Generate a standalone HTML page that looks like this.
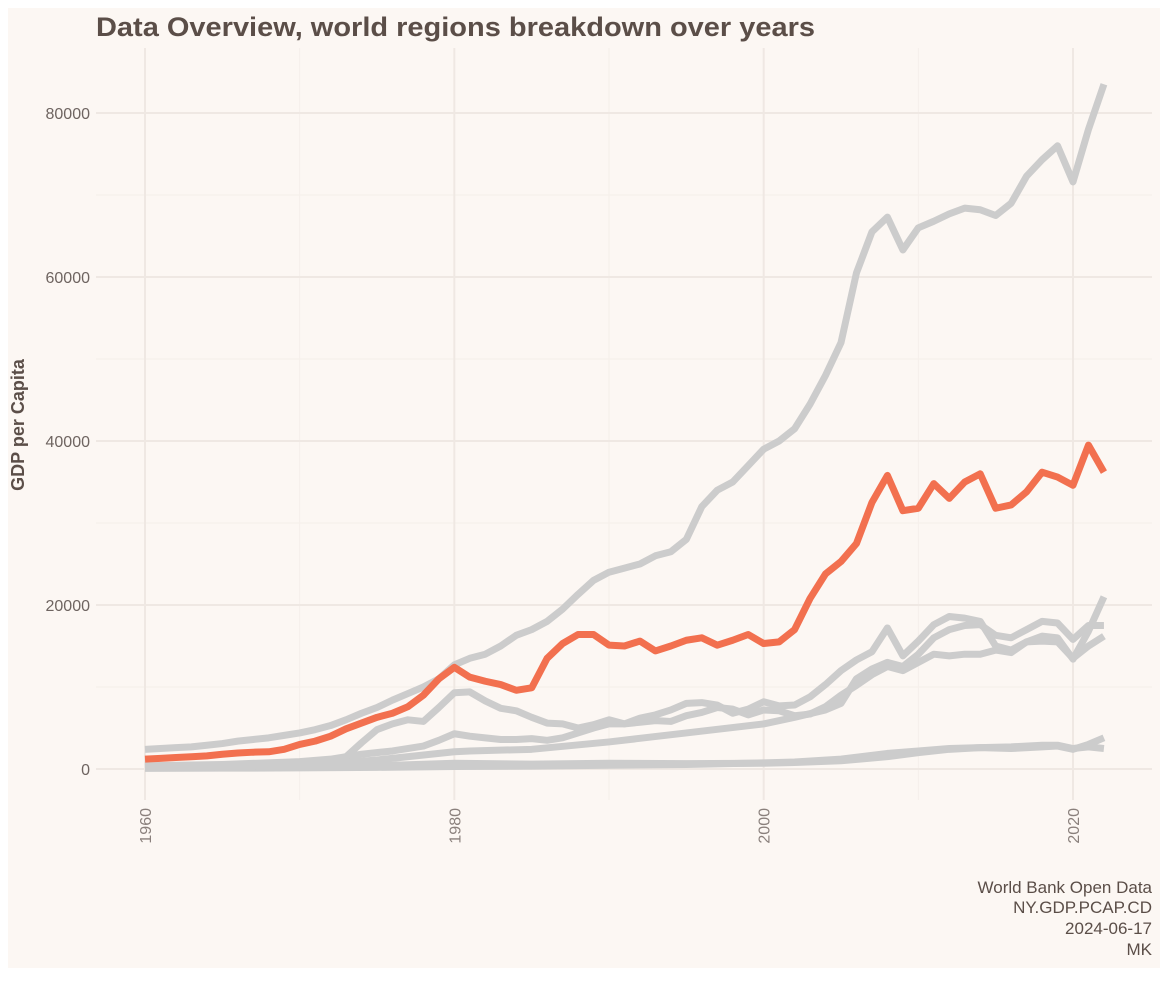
<!DOCTYPE html>
<html><head><meta charset="utf-8">
<style>
html,body{margin:0;padding:0;background:#fff;}
svg{display:block;font-family:"Liberation Sans","DejaVu Sans",sans-serif;}
</style></head>
<body>
<svg id="chart" width="1160" height="981" viewBox="0 0 1160 981">
<rect x="8" y="8" width="1152" height="960" fill="#fcf7f3"/>
<text x="96" y="36" font-size="27" font-weight="bold" fill="#5b4e48" textLength="719" lengthAdjust="spacingAndGlyphs">Data Overview, world regions breakdown over years</text>
<g id="grid"></g>
<g id="lines"></g>
<g id="axes"></g>
<text transform="translate(24,425) rotate(-90)" text-anchor="middle" font-size="18" font-weight="bold" fill="#5b4e48">GDP per Capita</text>
<g font-size="17" fill="#5b4e48" text-anchor="end">
<text x="1152" y="893">World Bank Open Data</text>
<text x="1152" y="913">NY.GDP.PCAP.CD</text>
<text x="1152" y="934">2024-06-17</text>
<text x="1152" y="955">MK</text>
</g>
</svg>
<script>
const xTicks=[1960,1980,2000,2020];
const yTicks=[0,20000,40000,60000,80000];
const yearsFull=[];for(let y=1960;y<=2022;y++)yearsFull.push(y);
const northAmerica=[2400,2500,2600,2700,2900,3100,3400,3600,3800,4100,4400,4800,5300,6000,6800,7500,8400,9200,10000,11000,12700,13500,14000,15000,16300,17000,18000,19500,21300,23000,24000,24500,25000,26000,26500,28000,32000,34000,35000,37000,39000,40000,41500,44500,48000,52000,60500,65500,67300,63300,66000,66800,67700,68400,68200,67500,69000,72300,74300,76000,71600,78000,83500];
const highlight=[1200,1300,1400,1500,1600,1800,1950,2050,2100,2400,3000,3400,4000,4900,5600,6300,6800,7600,9000,11000,12400,11200,10700,10300,9600,9900,13500,15300,16400,16400,15100,15000,15600,14400,15000,15700,16000,15100,15700,16400,15300,15500,17000,20800,23800,25300,27500,32500,35800,31500,31800,34800,33000,35000,36000,31800,32200,33800,36200,35600,34600,39500,36200];
const middleEast=[200,220,240,260,280,300,330,360,400,450,550,700,1000,1500,3200,4800,5500,6000,5800,7500,9300,9400,8300,7400,7100,6300,5600,5500,5000,5400,6000,5500,6200,6600,7200,8000,8100,7800,6800,7300,8200,7700,7800,8800,10300,12000,13300,14300,17200,13800,15600,17600,18600,18400,18000,15000,14500,15500,16200,16000,13400,16800,21000];
const latinYears=[1960,1965,1970,1972,1974,1976,1978,1979,1980,1981,1982,1983,1984,1985,1986,1987,1988,1989,1990,1991,1992,1993,1994,1995,1996,1997,1998,1999,2000,2001,2002,2003,2004,2005,2006,2007,2008,2009,2010,2011,2012,2013,2014,2015,2016,2017,2018,2019,2020,2021,2022];
const latinAmerica=[400,550,900,1200,1800,2200,2800,3500,4300,4000,3800,3600,3600,3700,3500,3800,4400,5000,5500,5500,5700,5900,5800,6500,6900,7500,7300,6600,7200,7100,6500,6700,7600,9000,10200,11500,12500,12000,13000,14000,13800,14000,14000,14500,14200,15500,15600,15500,13500,15000,16200];
const eastYears=[1960,1965,1970,1975,1980,1981,1985,1990,1995,2000,2002,2004,2005,2006,2007,2008,2009,2010,2011,2012,2013,2014,2015,2016,2017,2018,2019,2020,2021,2022];
const eastAsia=[200,250,400,1100,2100,2200,2400,3300,4400,5500,6300,7200,8000,11000,12200,13000,12500,14000,16000,17000,17500,17600,16300,16000,17000,18000,17800,15800,17500,17500];
const lowYears=[1960,1965,1970,1975,1980,1985,1990,1995,2000,2002,2005,2008,2010,2012,2014,2016,2018,2019,2020,2021,2022];
const lowA=[150,200,250,400,700,600,700,650,700,800,1000,1500,2000,2400,2600,2500,2700,2800,2400,3000,3800];
const lowB=[80,100,130,200,300,350,450,550,750,850,1200,1900,2200,2500,2600,2700,2900,2900,2500,2700,2500];

const svg=document.getElementById('chart');
const NS='http://www.w3.org/2000/svg';
const xS=y=>145+(y-1960)*(1073-145)/60;
const yS=v=>769-v*(769-113)/80000;

const grid=document.getElementById('grid');
for(let v=10000;v<=80000;v+=20000){const l=document.createElementNS(NS,'line');l.setAttribute('x1',96);l.setAttribute('x2',1152);l.setAttribute('y1',yS(v));l.setAttribute('y2',yS(v));l.setAttribute('stroke','#f5efea');l.setAttribute('stroke-width','1');

grid.appendChild(l);}
for(let yr=1970;yr<=2010;yr+=20){const l=document.createElementNS(NS,'line');l.setAttribute('x1',xS(yr));l.setAttribute('x2',xS(yr));l.setAttribute('y1',48);l.setAttribute('y2',800);l.setAttribute('stroke','#f5efea');l.setAttribute('stroke-width','1');

grid.appendChild(l);}
yTicks.forEach(v=>{const l=document.createElementNS(NS,'line');l.setAttribute('x1',96);l.setAttribute('x2',1152);l.setAttribute('y1',yS(v));l.setAttribute('y2',yS(v));l.setAttribute('stroke','#efe8e3');l.setAttribute('stroke-width','2');

grid.appendChild(l);
const t=document.createElementNS(NS,'text');t.setAttribute('x',90);t.setAttribute('y',yS(v)+6);t.setAttribute('text-anchor','end');t.setAttribute('font-size','16');t.setAttribute('fill','#6e6460');t.textContent=v;

document.getElementById('axes').appendChild(t);});
xTicks.forEach(yr=>{const l=document.createElementNS(NS,'line');l.setAttribute('x1',xS(yr));l.setAttribute('x2',xS(yr));l.setAttribute('y1',48);l.setAttribute('y2',800);l.setAttribute('stroke','#efe8e3');l.setAttribute('stroke-width','2');

grid.appendChild(l);
const t=document.createElementNS(NS,'text');t.setAttribute('transform','translate('+(xS(yr)+6)+',808) rotate(-90)');t.setAttribute('text-anchor','end');t.setAttribute('font-size','16');t.setAttribute('fill','#8a807c');t.textContent=yr;

document.getElementById('axes').appendChild(t);});

const lines=document.getElementById('lines');
function draw(xs,vals,color,name){const p=document.createElementNS(NS,'polyline');
p.setAttribute('points',xs.map((yr,i)=>xS(yr)+','+yS(vals[i])).join(' '));
p.setAttribute('fill','none');p.setAttribute('stroke',color);p.setAttribute('stroke-width','7');p.setAttribute('stroke-linejoin','round');

lines.appendChild(p);}
draw(lowYears,lowB,'#cccccc','line-low-b');
draw(lowYears,lowA,'#cccccc','line-low-a');
draw(latinYears,latinAmerica,'#cccccc','line-latin-america');
draw(eastYears,eastAsia,'#cccccc','line-east-asia');
draw(yearsFull,middleEast,'#cccccc','line-middle-east');
draw(yearsFull,northAmerica,'#cccccc','line-north-america');
draw(yearsFull,highlight,'#f2704f','line-highlighted-region');
</script>
</body></html>
